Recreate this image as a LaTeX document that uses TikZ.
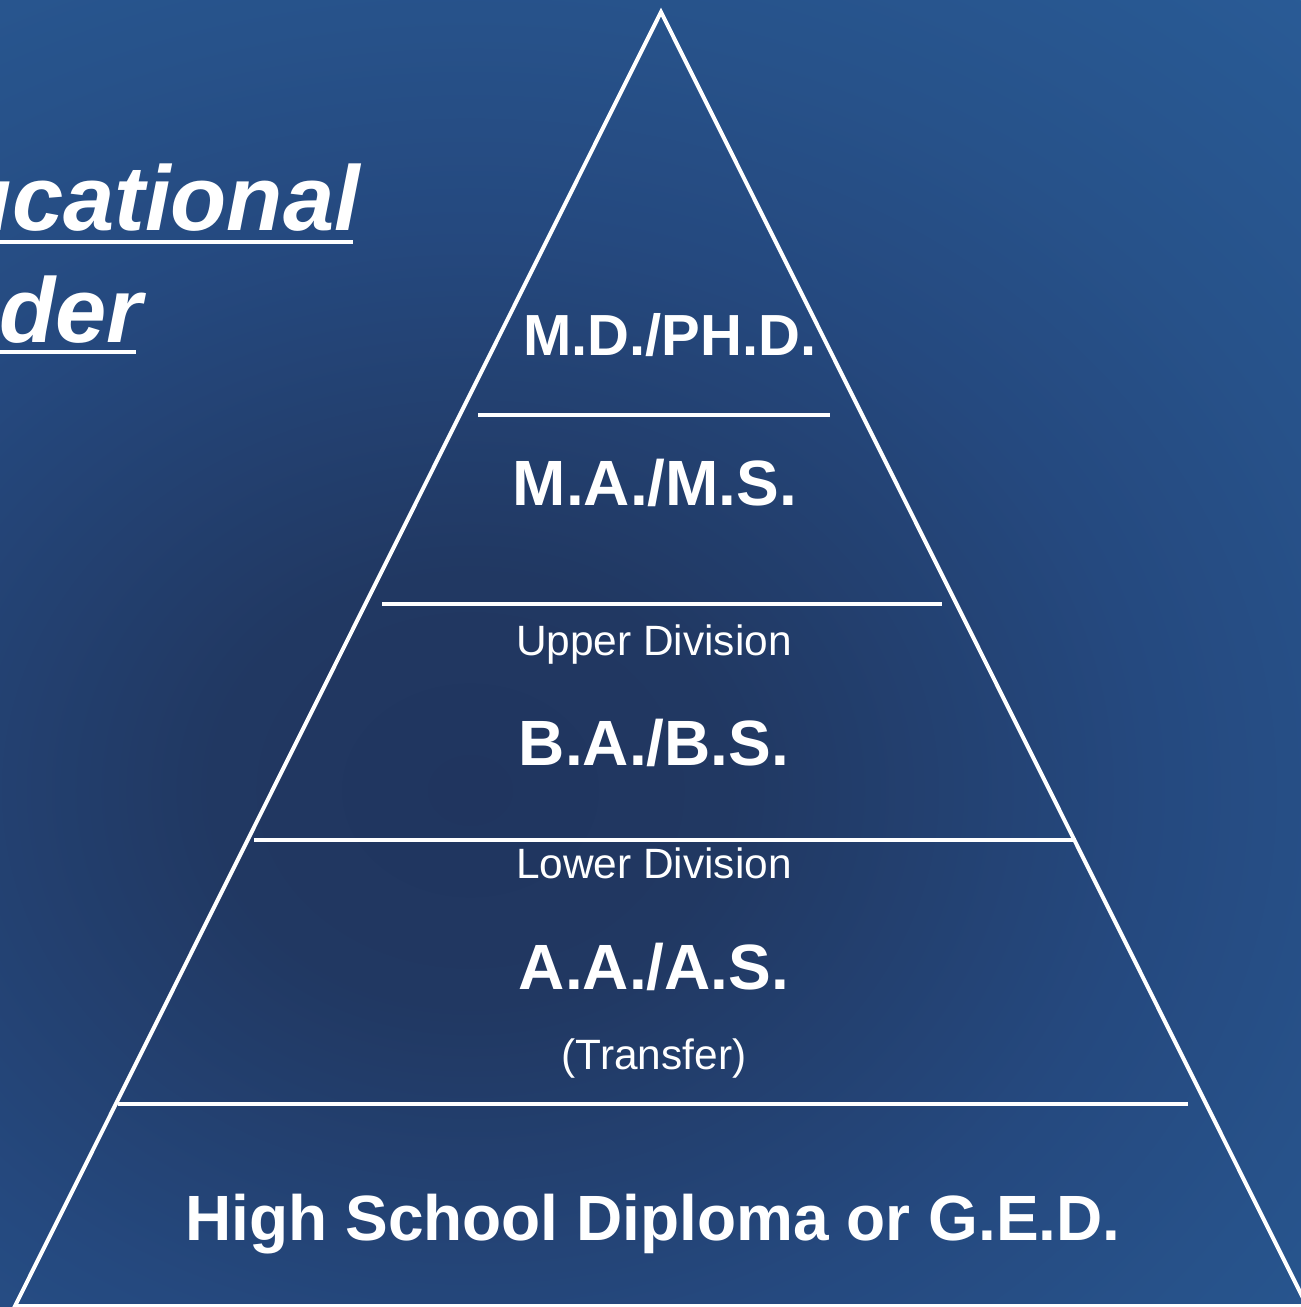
\documentclass[tikz,border=0pt]{standalone}
\usepackage{fontspec}
\setmainfont{Liberation Sans}
\definecolor{bg0}{HTML}{20355F}
\definecolor{bg1}{HTML}{213862}
\definecolor{bg2}{HTML}{25497F}
\definecolor{bg3}{HTML}{27528A}
\definecolor{bg4}{HTML}{295B96}
\definecolor{bg5}{HTML}{2B67A5}
\pgfdeclareradialshading{bgshade}{\pgfpoint{0bp}{0bp}}{color(0bp)=(bg0); color(5.1bp)=(bg1); color(13.5bp)=(bg2); color(18.5bp)=(bg3); color(25.3bp)=(bg4); color(35.4bp)=(bg5); color(50bp)=(bg5)}
\begin{document}
\begin{tikzpicture}[x=1pt,y=-1pt,
  divider/.style={draw=white, line width=4pt},
  lbl/.style={text=white, inner sep=0pt, anchor=base},
  big/.style={lbl, font=\fontsize{64}{70}\selectfont\bfseries},
  mid/.style={lbl, font=\fontsize{58}{64}\selectfont\bfseries},
  small/.style={lbl, font=\fontsize{42.4}{48}\selectfont},
  title/.style={text=white, inner sep=0pt, anchor=base east, font=\fontsize{92}{100}\selectfont\bfseries\itshape}]
\useasboundingbox (0,0) rectangle (1301,1307);
\clip (0,0) rectangle (1301,1307);
\fill[bg5] (0,0) rectangle (1301,1307);
\shade[shading=bgshade] (470,790) ellipse [x radius=1260pt, y radius=1050pt];
% pyramid
\coordinate (apex) at (661,12);
\coordinate (bl) at (15,1306);
\coordinate (br) at (1307,1306);
\draw[divider, line join=miter] (apex) -- (bl) -- (br) -- cycle;
\draw[divider] (478,415) -- (830,415);
\draw[divider] (382,604) -- (942,604);
\draw[divider] (254,840) -- (1076,840);
\draw[divider] (118,1104) -- (1188,1104);
% labels
\node[mid] (md) at (670,355) {M.D./PH.D.};
\node[big] (ma) at (655,505) {M.A./M.S.};
\node[small] (up) at (654,655) {Upper Division};
\node[big] (ba) at (654,765) {B.A./B.S.};
\node[small] (lo) at (654,878) {Lower Division};
\node[big] (aa) at (654,989) {A.A./A.S.};
\node[small] (tr) at (654,1069) {(Transfer)};
\node[big] (hs) at (653,1240) {High School Diploma or G.E.D.};
% title
\node[title] (t1) at (360,230) {ucational};
\node[title] (t2) at (143,342) {der};
\draw[white, line width=4pt] (0,241.5) -- (353,241.5);
\draw[white, line width=4pt] (0,351.5) -- (136,351.5);
\end{tikzpicture}
\end{document}
